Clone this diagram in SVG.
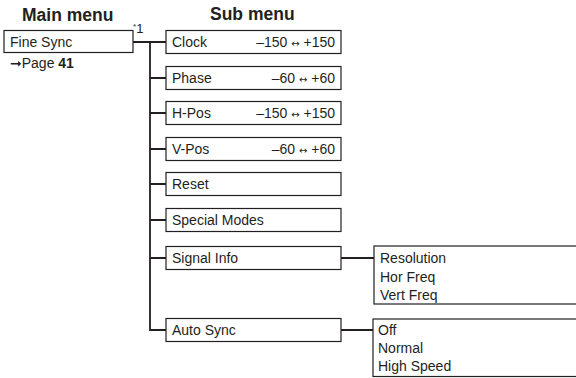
<svg xmlns="http://www.w3.org/2000/svg" width="576" height="378" viewBox="0 0 576 378">
<style>
  .box { fill: #fff; stroke: #231f20; stroke-width: 1.2; }
  .conn { fill: none; stroke: #231f20; stroke-width: 1.8; }
  text { font-family: "Liberation Sans", Arial, sans-serif; fill: #231f20; }
  .hd { font-size: 17.5px; font-weight: bold; }
  .lbl { font-size: 14px; }
  .val { font-size: 14px; text-anchor: end; }
  .arr { font-family: "DejaVu Sans", sans-serif; font-size: 10px; }
</style>
<rect width="576" height="378" fill="#fff"/>
<text class="hd" x="22" y="21">Main menu</text>
<text class="hd" x="210" y="20">Sub menu</text>

<g id="connectors">
  <path class="conn" d="M133 42 H166 M150 42 V330 H166 M150 78 H166 M150 113 H166 M150 149 H166 M150 184 H166 M150 220 H166 M150 258 H166 M341 258 H374 M341 330 H373"/>
</g>

<g id="fine-sync">
  <rect class="box" x="4" y="30.5" width="129" height="22"/>
  <text class="lbl" x="10" y="47">Fine Sync</text>
  <text x="133" y="33" font-size="13"><tspan font-size="8" dy="-4">*</tspan><tspan dy="4">1</tspan></text>
  <text class="lbl" x="10" y="68"><tspan font-family="DejaVu Sans, sans-serif" font-size="14">➞</tspan>Page <tspan font-weight="bold">41</tspan></text>
</g>

<g id="clock">
  <rect class="box" x="166" y="30.5" width="175" height="23"/>
  <text class="lbl" x="172" y="47">Clock</text>
  <text class="val" x="335" y="47">–150 <tspan class="arr">↔</tspan> +150</text>
</g>
<g id="phase">
  <rect class="box" x="166" y="66.5" width="175" height="23"/>
  <text class="lbl" x="172" y="83">Phase</text>
  <text class="val" x="335" y="83">–60 <tspan class="arr">↔</tspan> +60</text>
</g>
<g id="h-pos">
  <rect class="box" x="166" y="101.5" width="175" height="23"/>
  <text class="lbl" x="172" y="118">H-Pos</text>
  <text class="val" x="335" y="118">–150 <tspan class="arr">↔</tspan> +150</text>
</g>
<g id="v-pos">
  <rect class="box" x="166" y="137.5" width="175" height="23"/>
  <text class="lbl" x="172" y="154">V-Pos</text>
  <text class="val" x="335" y="154">–60 <tspan class="arr">↔</tspan> +60</text>
</g>
<g id="reset">
  <rect class="box" x="166" y="172.5" width="175" height="23"/>
  <text class="lbl" x="172" y="189">Reset</text>
</g>
<g id="special-modes">
  <rect class="box" x="166" y="208.5" width="175" height="23"/>
  <text class="lbl" x="172" y="225">Special Modes</text>
</g>
<g id="signal-info">
  <rect class="box" x="166" y="246.5" width="175" height="23"/>
  <text class="lbl" x="172" y="263">Signal Info</text>
</g>
<g id="auto-sync">
  <rect class="box" x="166" y="318.5" width="175" height="23"/>
  <text class="lbl" x="172" y="335">Auto Sync</text>
</g>

<g id="signal-info-options">
  <rect class="box" x="374" y="246" width="210" height="58"/>
  <text class="lbl" x="380" y="263">Resolution</text>
  <text class="lbl" x="380" y="281.5">Hor Freq</text>
  <text class="lbl" x="380" y="300">Vert Freq</text>
</g>
<g id="auto-sync-options">
  <rect class="box" x="373" y="319" width="211" height="57.5"/>
  <text class="lbl" x="378" y="335">Off</text>
  <text class="lbl" x="378" y="353">Normal</text>
  <text class="lbl" x="378" y="371">High Speed</text>
</g>
</svg>
